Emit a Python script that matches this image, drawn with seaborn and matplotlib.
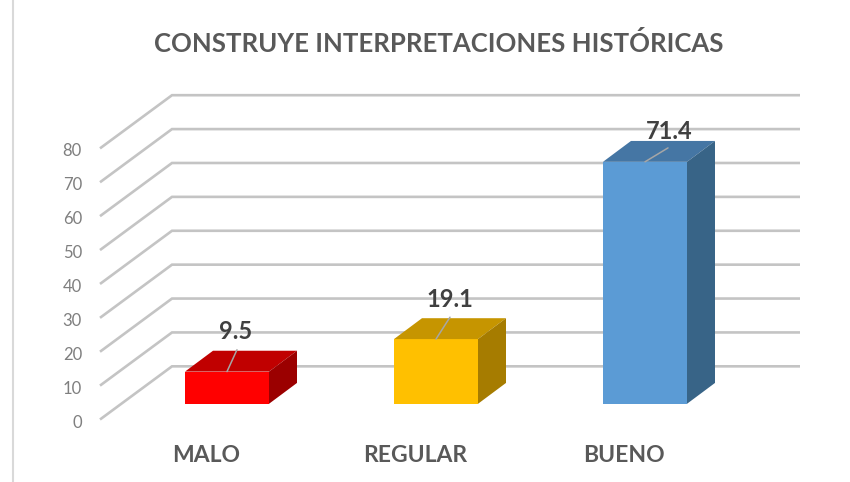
import numpy as np
import matplotlib
matplotlib.use("Agg")
import matplotlib.pyplot as plt
from matplotlib.lines import Line2D
from matplotlib.patches import Polygon
import seaborn as sns

title = "CONSTRUYE INTERPRETACIONES HISTÓRICAS"
categories = ["MALO", "REGULAR", "BUENO"]
values = [9.5, 19.1, 71.4]
y_ticks = [0, 10, 20, 30, 40, 50, 60, 70, 80]
front_colors = ["#ff0000", "#ffc000", "#5b9bd5"]
top_colors = ["#c00000", "#c69500", "#4576a4"]
side_colors = ["#9b0000", "#a67c00", "#386487"]

W, H = 850, 482
sns.set_theme(style="white")
plt.rcParams["font.family"] = ["Lato", "DejaVu Sans"]

# pixel geometry of the plot
PX_CAT = 209.0      # px between categories
PX_UNIT = 3.41      # px per value unit
X0_PX, BASE_PX = 227.0, 405.7  # first bar centre, bar base
L, R, B, T = 100, 800, 421, 95

fig = plt.figure(figsize=(W / 100, H / 100), dpi=100, facecolor="white")
ax = fig.add_axes([L / W, 1 - B / H, (R - L) / W, (B - T) / H])

to_x = lambda px: (px - X0_PX) / PX_CAT
to_y = lambda py: (BASE_PX - py) / PX_UNIT
dx = 28 / PX_CAT      # bar depth
dy = 21 / PX_UNIT
half = 42 / PX_CAT

sns.barplot(x=categories, y=values, hue=categories, palette=front_colors,
            width=2 * half, legend=False, dodge=False, ax=ax, zorder=3,
            edgecolor="none", linewidth=0, saturation=1)
ax.set_xlim(to_x(L), to_x(R))
ax.set_ylim(to_y(B), to_y(T))
ax.set_xlabel("")
ax.set_ylabel("")
for s in ax.spines.values():
    s.set_visible(False)

# floor/wall gridlines
front_off = to_y(421.5)
back_off = to_y(368)
back_x = to_x(172)
for v in y_ticks:
    ax.plot([to_x(L), back_x, to_x(R)],
            [v + front_off, v + back_off, v + back_off],
            color="#c4c4c4", lw=1.9, zorder=1, clip_on=False,
            solid_joinstyle="miter", solid_capstyle="butt")

# 3-D faces and labels
leaders = [(10, 22), (14, 22), (23, 14)]
label_off = [(9, 40), (14, 40), (24, 31)]
for i, v in enumerate(values):
    x0, x1 = i - half, i + half
    ax.add_patch(Polygon([(x0, v), (x1, v), (x1 + dx, v + dy), (x0 + dx, v + dy)],
                         closed=True, fc=top_colors[i], ec="none", zorder=4))
    ax.add_patch(Polygon([(x1, 0), (x1 + dx, dy), (x1 + dx, v + dy), (x1, v)],
                         closed=True, fc=side_colors[i], ec="none", zorder=4))
    lx, ly = leaders[i]
    ax.plot([i, i + lx / PX_CAT], [v, v + ly / PX_UNIT], color="#a6a6a6", lw=1.1, zorder=5)
    ox, oy = label_off[i]
    ax.text(i + ox / PX_CAT, v + oy / PX_UNIT, f"{v:.1f}", ha="center", va="center",
            fontsize=17, fontweight="bold", color="#404040", zorder=6)

# axes text
ax.set_yticks([v + front_off - 1.5 / PX_UNIT for v in y_ticks], labels=[str(v) for v in y_ticks])
ax.set_xticks([i - 21 / PX_CAT for i in range(len(categories))], labels=categories)
ax.tick_params(axis="y", length=0, pad=13, labelsize=12, labelcolor="#7f7f7f")
ax.tick_params(axis="x", length=0, pad=17, labelsize=16.5)
for t in ax.get_xticklabels():
    t.set_fontweight("bold")
    t.set_color("#595959")

ax.set_title(title, fontsize=18.5, fontweight="bold", color="#595959",
             x=(438.5 - L) / (R - L), pad=31)

# picture frame at the left edge
fig.add_artist(Line2D([13.5 / W, 13.5 / W], [0, 1], color="#d9d9d9", lw=1.5))

fig.savefig("out.png", dpi=100, facecolor="white")
